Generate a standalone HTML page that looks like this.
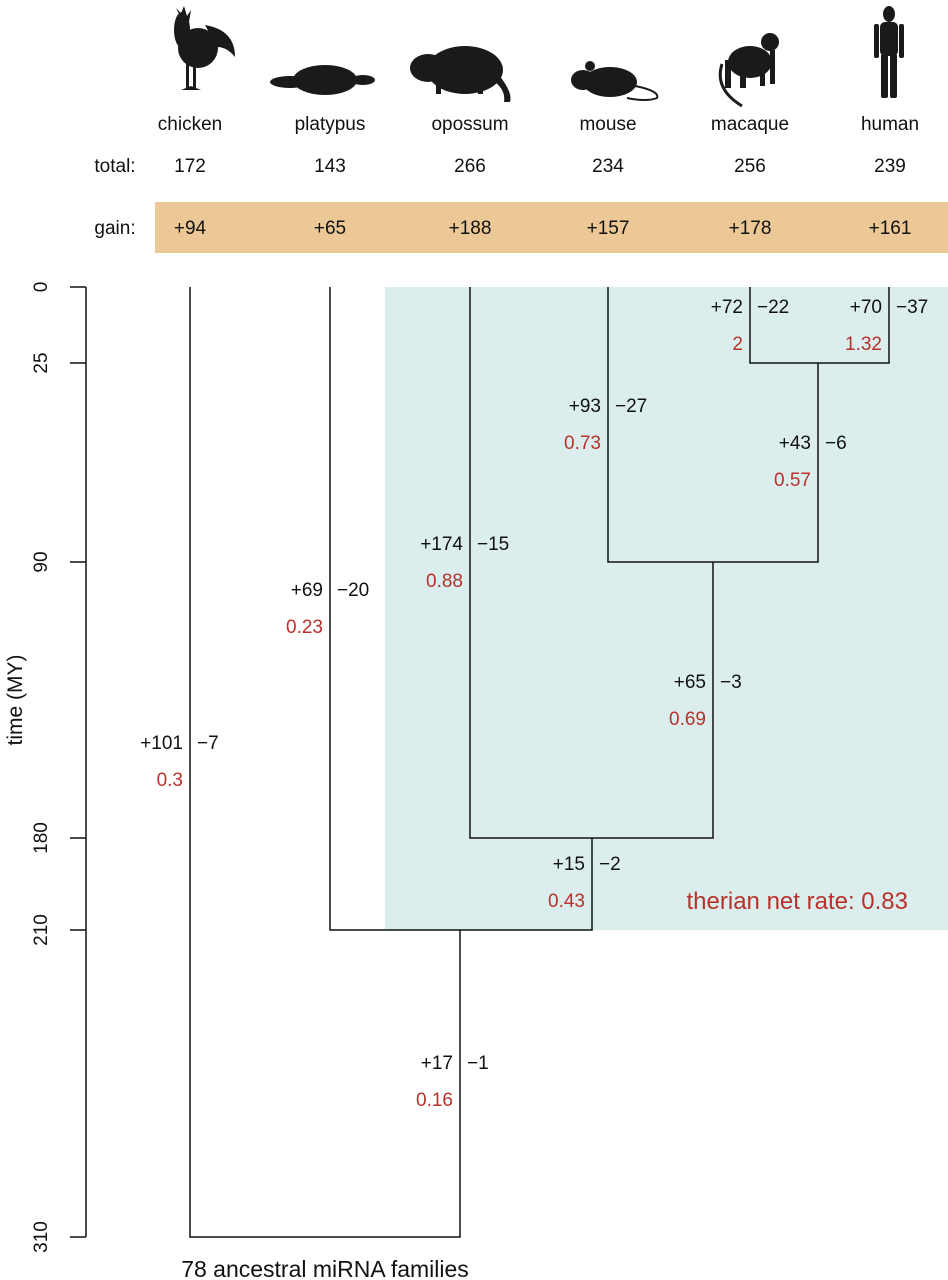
<!DOCTYPE html>
<html><head><meta charset="utf-8"><style>
html,body{margin:0;padding:0;background:#fff;}
svg{display:block;font-family:"Liberation Sans",Arial,sans-serif;}
</style></head><body>
<svg width="948" height="1280" viewBox="0 0 948 1280" xmlns="http://www.w3.org/2000/svg">
<g fill="#1a1a1a">
 <!-- chicken -->
 <ellipse cx="198" cy="48" rx="20" ry="20"/>
 <ellipse cx="182" cy="30" rx="8" ry="18"/>
 <path d="M176 8 l4 8 l4 -10 l3 10 l4 -6 l-2 12 z"/>
 <path d="M205 25 q30 5 30 32 q-8 -10 -18 -10 z"/>
 <rect x="186" y="64" width="3" height="24"/><rect x="193" y="64" width="3" height="24"/>
 <path d="M181 90 l10 -4 l10 4 z"/>
 <!-- platypus -->
 <ellipse cx="325" cy="80" rx="32" ry="15"/>
 <ellipse cx="290" cy="82" rx="20" ry="6"/>
 <ellipse cx="363" cy="80" rx="12" ry="5"/>
 <!-- opossum -->
 <ellipse cx="465" cy="70" rx="38" ry="24"/>
 <ellipse cx="428" cy="68" rx="18" ry="14"/>
 <path d="M498 74 q15 18 12 28 l-6 0 q2 -13 -12 -22 z"/>
 <rect x="436" y="82" width="5" height="12"/><rect x="478" y="82" width="5" height="12"/>
 <!-- mouse -->
 <ellipse cx="610" cy="82" rx="27" ry="15"/>
 <ellipse cx="583" cy="80" rx="12" ry="10"/>
 <circle cx="590" cy="66" r="5"/>
 <path d="M635 86 q25 5 22 12 q-10 4 -30 0" fill="none" stroke="#1a1a1a" stroke-width="2"/>
 <!-- macaque -->
 <ellipse cx="750" cy="62" rx="22" ry="16"/>
 <circle cx="770" cy="42" r="9"/>
 <rect x="725" y="60" width="6" height="28"/><rect x="740" y="64" width="6" height="24"/>
 <rect x="770" y="50" width="5" height="34"/><rect x="760" y="58" width="5" height="28"/>
 <path d="M722 64 q-8 25 20 42" fill="none" stroke="#1a1a1a" stroke-width="3"/>
 <!-- human -->
 <ellipse cx="889" cy="14" rx="6" ry="8"/>
 <rect x="880" y="22" width="18" height="34" rx="5"/>
 <rect x="874" y="24" width="5" height="34" rx="2"/><rect x="899" y="24" width="5" height="34" rx="2"/>
 <rect x="881" y="54" width="7" height="44" rx="2"/><rect x="890" y="54" width="7" height="44" rx="2"/>
</g>
<g font-size="19" fill="#111" text-anchor="middle">
 <text x="190" y="130">chicken</text><text x="330" y="130">platypus</text><text x="470" y="130">opossum</text>
 <text x="608" y="130">mouse</text><text x="750" y="130">macaque</text><text x="890" y="130">human</text>
 <text x="115" y="172">total:</text>
 <text x="190" y="172">172</text><text x="330" y="172">143</text><text x="470" y="172">266</text>
 <text x="608" y="172">234</text><text x="750" y="172">256</text><text x="890" y="172">239</text>
</g>
<rect x="155" y="202" width="793" height="51" fill="#ecc896"/>
<g font-size="19" fill="#111" text-anchor="middle">
 <text x="115" y="234">gain:</text>
 <text x="190" y="234">+94</text><text x="330" y="234">+65</text><text x="470" y="234">+188</text>
 <text x="608" y="234">+157</text><text x="750" y="234">+178</text><text x="890" y="234">+161</text>
</g>
<rect x="385" y="287" width="563" height="643" fill="#dbeeed"/>
<g stroke="#111" stroke-width="1.5" fill="none">
 <path d="M86 287 V1237 M70 287 H86 M70 363 H86 M70 562 H86 M70 838 H86 M70 930 H86 M70 1237 H86"/>
 <path d="M190 287 V1237 H460 V930"/>
 <path d="M330 287 V930 H592 V838"/>
 <path d="M470 287 V838 H713 V562"/>
 <path d="M608 287 V562 H818 V363"/>
 <path d="M750 287 V363 H889 V287"/>
</g>
<g font-size="19" fill="#111" text-anchor="middle">
 <text transform="translate(47,287) rotate(-90)">0</text>
 <text transform="translate(47,363) rotate(-90)">25</text>
 <text transform="translate(47,562) rotate(-90)">90</text>
 <text transform="translate(47,838) rotate(-90)">180</text>
 <text transform="translate(47,930) rotate(-90)">210</text>
 <text transform="translate(47,1237) rotate(-90)">310</text>
 <text font-size="21" transform="translate(22,700) rotate(-90)">time (MY)</text>
 <text x="325" y="1277" font-size="23">78 ancestral miRNA families</text>
</g>
<g font-size="19">
 <g fill="#111" text-anchor="end">
  <text x="183" y="749">+101</text><text x="323" y="596">+69</text><text x="463" y="550">+174</text>
  <text x="601" y="412">+93</text><text x="743" y="313">+72</text><text x="882" y="313">+70</text>
  <text x="811" y="449">+43</text><text x="706" y="688">+65</text><text x="585" y="870">+15</text>
  <text x="453" y="1069">+17</text>
 </g>
 <g fill="#111" text-anchor="start">
  <text x="197" y="749">−7</text><text x="337" y="596">−20</text><text x="477" y="550">−15</text>
  <text x="615" y="412">−27</text><text x="757" y="313">−22</text><text x="896" y="313">−37</text>
  <text x="825" y="449">−6</text><text x="720" y="688">−3</text><text x="599" y="870">−2</text>
  <text x="467" y="1069">−1</text>
 </g>
 <g fill="#b8312b" text-anchor="end">
  <text x="183" y="786">0.3</text><text x="323" y="633">0.23</text><text x="463" y="587">0.88</text>
  <text x="601" y="449">0.73</text><text x="743" y="350">2</text><text x="882" y="350">1.32</text>
  <text x="811" y="486">0.57</text><text x="706" y="725">0.69</text><text x="585" y="907">0.43</text>
  <text x="453" y="1106">0.16</text>
 </g>
 <text x="908" y="909" font-size="24" fill="#b8312b" text-anchor="end">therian net rate: 0.83</text>
</g>
</svg>
</body></html>
